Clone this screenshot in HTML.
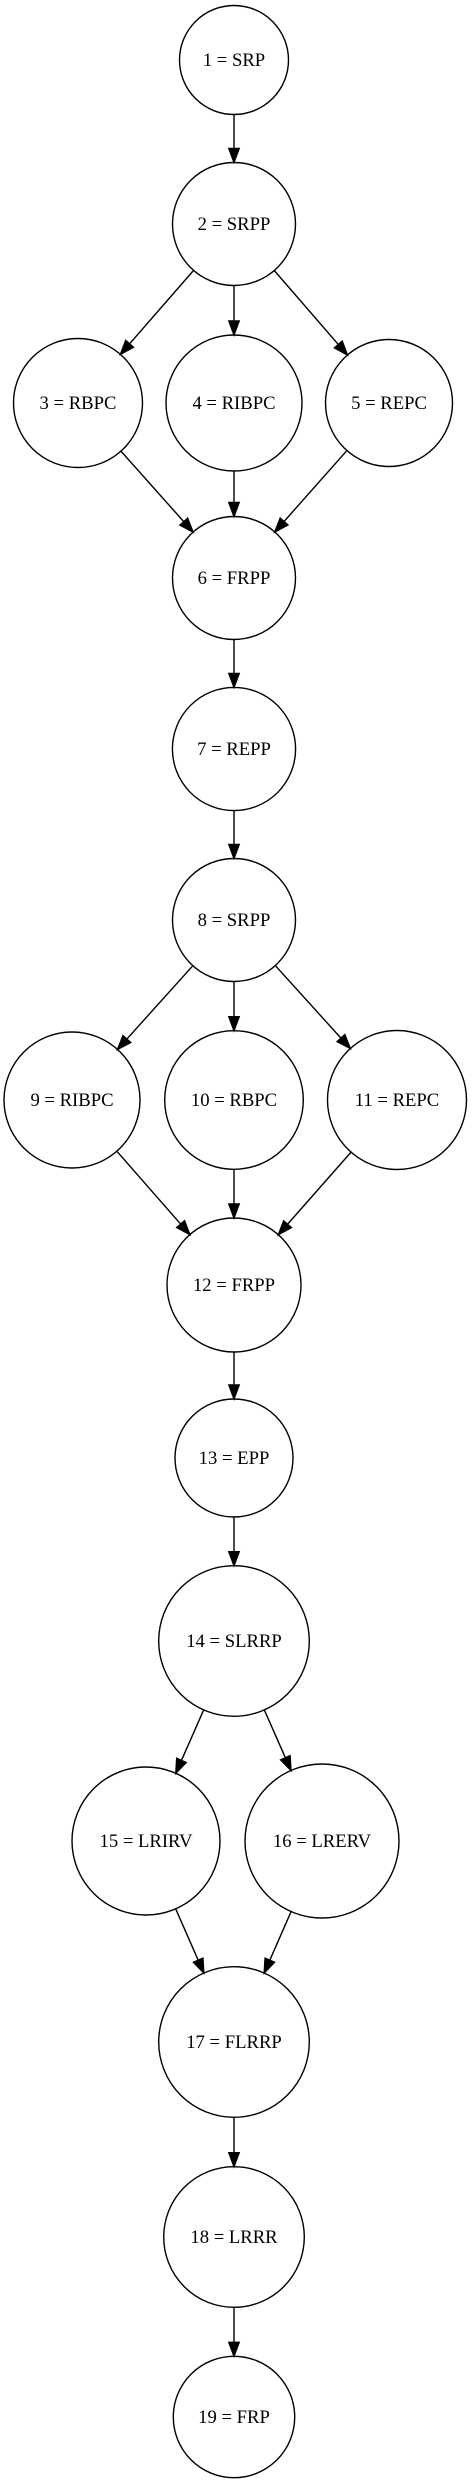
<!DOCTYPE html>
<html><head><meta charset="utf-8"><style>
html,body{margin:0;padding:0;background:#fff;}
svg{display:block;}
text{font-family:"Liberation Serif",serif;font-size:18.67px;text-anchor:middle;fill:#000;}
</style></head><body>
<svg id="g" width="472" height="2481" viewBox="0 0 472 2481" xmlns="http://www.w3.org/2000/svg">
<g id="edges"></g>
<g fill="none" stroke="#000" stroke-width="1.4">
<circle cx="234" cy="60" r="54.5"/>
<circle cx="234" cy="224" r="61.5"/>
<circle cx="78" cy="403" r="64.5"/>
<circle cx="234" cy="403" r="68"/>
<circle cx="389" cy="403" r="63.5"/>
<circle cx="234" cy="578" r="61.5"/>
<circle cx="234" cy="749" r="61.6"/>
<circle cx="234" cy="920" r="61.5"/>
<circle cx="72" cy="1100" r="68"/>
<circle cx="234" cy="1100" r="69.3"/>
<circle cx="397" cy="1100" r="69.5"/>
<circle cx="234" cy="1285" r="67"/>
<circle cx="234" cy="1458" r="59"/>
<circle cx="234" cy="1641" r="75.3"/>
<circle cx="146" cy="1841" r="74"/>
<circle cx="322" cy="1841" r="77"/>
<circle cx="234" cy="2042" r="75.3"/>
<circle cx="234" cy="2237" r="70.3"/>
<circle cx="234" cy="2417" r="60.7"/>
</g>
<text x="234" y="66">1 = SRP</text>
<text x="234" y="230">2 = SRPP</text>
<text x="78" y="409">3 = RBPC</text>
<text x="234" y="409">4 = RIBPC</text>
<text x="389" y="409">5 = REPC</text>
<text x="234" y="584">6 = FRPP</text>
<text x="234" y="755">7 = REPP</text>
<text x="234" y="926">8 = SRPP</text>
<text x="72" y="1106">9 = RIBPC</text>
<text x="234" y="1106">10 = RBPC</text>
<text x="397" y="1106">11 = REPC</text>
<text x="234" y="1291">12 = FRPP</text>
<text x="234" y="1464">13 = EPP</text>
<text x="234" y="1647">14 = SLRRP</text>
<text x="146" y="1847">15 = LRIRV</text>
<text x="322" y="1847">16 = LRERV</text>
<text x="234" y="2048">17 = FLRRP</text>
<text x="234" y="2243">18 = LRRR</text>
<text x="234" y="2423">19 = FRP</text>
</svg>
<script>
var N={1:[234,60,54.5],2:[234,224,61.5],3:[78,403,64.5],4:[234,403,68],5:[389,403,63.5],6:[234,578,61.5],7:[234,749,61.6],8:[234,920,61.5],9:[72,1100,68],10:[234,1100,69.3],11:[397,1100,69.5],12:[234,1285,67],13:[234,1458,59],14:[234,1641,75.3],15:[146,1841,74],16:[322,1841,77],17:[234,2042,75.3],18:[234,2237,70.3],19:[234,2417,60.7]};
var E=[[1,2],[2,3],[2,4],[2,5],[3,6],[4,6],[5,6],[6,7],[7,8],[8,9],[8,10],[8,11],[9,12],[10,12],[11,12],[12,13],[13,14],[14,15],[14,16],[15,17],[16,17],[17,18],[18,19]];
var s='';
E.forEach(function(e){var a=N[e[0]],b=N[e[1]];var dx=b[0]-a[0],dy=b[1]-a[1],L=Math.sqrt(dx*dx+dy*dy),ux=dx/L,uy=dy/L;
var x1=a[0]+ux*a[2],y1=a[1]+uy*a[2],x2=b[0]-ux*b[2],y2=b[1]-uy*b[2];var al=14,hw=5.2;
var bx=x2-ux*al,by=y2-uy*al;
s+='<line x1="'+x1+'" y1="'+y1+'" x2="'+bx+'" y2="'+by+'" stroke="#000" stroke-width="1.4"/>';
s+='<polygon points="'+x2+','+y2+' '+(bx-uy*hw)+','+(by+ux*hw)+' '+(bx+uy*hw)+','+(by-ux*hw)+'" fill="#000" stroke="#000" stroke-width="1.4"/>';});
document.getElementById('edges').innerHTML=s;
</script>
</body></html>
